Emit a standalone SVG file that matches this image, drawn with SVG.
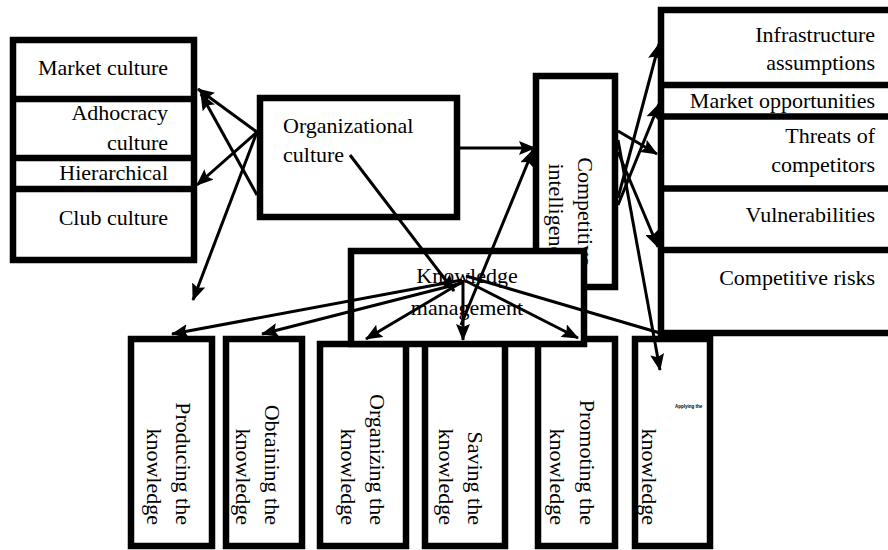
<svg xmlns="http://www.w3.org/2000/svg" width="888" height="550" viewBox="0 0 888 550">
<style>
.box{fill:#fff;stroke:#000;stroke-width:6.5}
.div{stroke:#000;stroke-width:6.5}
.t{font-family:"Liberation Serif","Times New Roman",serif;font-size:22px;fill:#000}
.e{text-anchor:end}
.m{text-anchor:middle}
.c line{stroke:#000;stroke-width:3}
.c .a{marker-end:url(#ah)}
</style>
<defs>
<marker id="ah" markerUnits="userSpaceOnUse" markerWidth="18" markerHeight="14" refX="16" refY="7" orient="auto">
<path d="M0,0 L17,7 L0,14 L3,7 z" fill="#000"/>
</marker>
</defs>
<rect width="888" height="550" fill="#fff"/>

<g id="left-stack">
<rect class="box" x="13" y="40" width="181" height="220"/>
<line class="div" x1="13" y1="99" x2="194" y2="99"/>
<line class="div" x1="13" y1="158" x2="194" y2="158"/>
<line class="div" x1="13" y1="189" x2="194" y2="189"/>
<text class="t e" x="168" y="75">Market culture</text>
<text class="t e" x="168" y="120">Adhocracy</text>
<text class="t e" x="168" y="150">culture</text>
<text class="t e" x="168" y="180">Hierarchical</text>
<text class="t e" x="168" y="225">Club culture</text>
</g>

<g id="org-culture">
<rect class="box" x="260" y="98" width="197" height="119"/>
<text class="t" x="283" y="133">Organizational</text>
<text class="t" x="283" y="162">culture</text>
</g>

<g id="competitive-intelligence">
<rect class="box" x="536" y="76" width="79" height="211"/>
<text class="t e" transform="translate(578,266) rotate(90)"><tspan x="0" y="0">Competitive</tspan><tspan x="0" y="29">intelligence</tspan></text>
</g>

<g id="right-stack">
<rect class="box" x="661" y="10" width="240" height="323"/>
<line class="div" x1="661" y1="85" x2="888" y2="85"/>
<line class="div" x1="661" y1="116.5" x2="888" y2="116.5"/>
<line class="div" x1="661" y1="188.5" x2="888" y2="188.5"/>
<line class="div" x1="661" y1="250" x2="888" y2="250"/>
<text class="t e" x="875" y="42">Infrastructure</text>
<text class="t e" x="875" y="70">assumptions</text>
<text class="t e" x="875" y="108">Market opportunities</text>
<text class="t e" x="875" y="143">Threats of</text>
<text class="t e" x="875" y="172">competitors</text>
<text class="t e" x="875" y="222">Vulnerabilities</text>
<text class="t e" x="875" y="285">Competitive risks</text>
</g>

<g id="producing">
<rect class="box" x="131" y="339" width="81" height="207"/>
<text class="t e" transform="translate(176,525) rotate(90)"><tspan x="0" y="0">Producing the</tspan><tspan x="0" y="29">knowledge</tspan></text>
</g>
<g id="obtaining">
<rect class="box" x="226" y="339" width="76" height="207"/>
<text class="t e" transform="translate(265,525) rotate(90)"><tspan x="0" y="0">Obtaining the</tspan><tspan x="0" y="29">knowledge</tspan></text>
</g>
<g id="organizing">
<rect class="box" x="320" y="344" width="86" height="202"/>
<text class="t e" transform="translate(370,525) rotate(90)"><tspan x="0" y="0">Organizing the</tspan><tspan x="0" y="29">knowledge</tspan></text>
</g>
<g id="saving">
<rect class="box" x="425" y="343" width="80" height="203"/>
<text class="t e" transform="translate(468,525) rotate(90)"><tspan x="0" y="0">Saving the</tspan><tspan x="0" y="29">knowledge</tspan></text>
</g>
<g id="promoting">
<rect class="box" x="538" y="339" width="77" height="207"/>
<text class="t e" transform="translate(580,525) rotate(90)"><tspan x="0" y="0">Promoting the</tspan><tspan x="0" y="30">knowledge</tspan></text>
</g>
<g id="applying">
<rect class="box" x="635" y="339" width="75" height="207"/>
<text x="675" y="408" style="font-family:'Liberation Sans',Arial,sans-serif;font-size:4.5px;font-weight:bold">Applying the</text>
<text class="t e" transform="translate(642,525) rotate(90)">knowledge</text>
</g>

<g id="knowledge-management">
<rect class="box" x="351" y="251" width="233" height="93"/>
<text class="t m" x="467" y="283">Knowledge</text>
<text class="t m" x="467" y="315">management</text>
</g>

<g id="connectors" class="c">
<line class="a" x1="257" y1="132" x2="198" y2="89"/>
<line class="a" x1="257" y1="195" x2="201" y2="94"/>
<line class="a" x1="257" y1="132" x2="197" y2="185"/>
<line class="a" x1="257" y1="132" x2="193" y2="300"/>
<line class="a" x1="460" y1="148" x2="535" y2="148"/>
<line class="a" x1="350" y1="155" x2="454" y2="291"/>
<line class="a" x1="461" y1="325" x2="533" y2="150"/>
<line class="a" x1="463" y1="280" x2="463" y2="340"/>
<line class="a" x1="462" y1="280" x2="172" y2="334"/>
<line class="a" x1="462" y1="283" x2="262" y2="334"/>
<line class="a" x1="462" y1="282" x2="366" y2="339"/>
<line class="a" x1="466" y1="281" x2="578" y2="338"/>
<line x1="466" y1="276" x2="660" y2="333"/>
<line class="a" x1="618" y1="198" x2="659" y2="44"/>
<line class="a" x1="618" y1="205" x2="659" y2="104"/>
<line class="a" x1="618" y1="131" x2="657" y2="154"/>
<line class="a" x1="618" y1="152" x2="658" y2="247"/>
<line class="a" x1="618" y1="140" x2="660" y2="370"/>
</g>
</svg>
